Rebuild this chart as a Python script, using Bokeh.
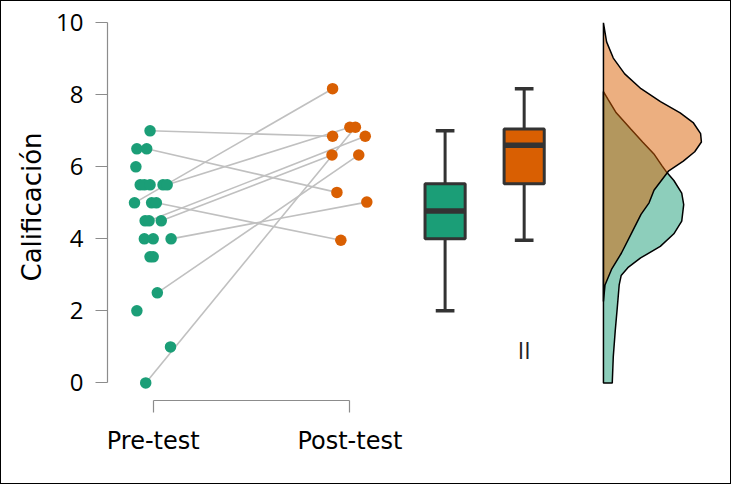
from bokeh.plotting import figure
from bokeh.models import Range1d, FixedTicker
from bokeh.embed import file_html
from bokeh.resources import INLINE
from bokeh.core.properties import value

# ---------------- data ----------------
group_labels = ["Pre-test", "Post-test"]
y_ticks = [0, 2, 4, 6, 8, 10]
y_label = "Calificación"

pre_scores = [7.0, 6.5, 6.5, 6.0, 5.5, 5.5, 5.5, 5.5, 5.5, 5.0, 5.0, 5.0,
              4.5, 4.5, 4.5, 4.0, 4.0, 4.0, 3.5, 3.5, 2.5, 2.0, 1.0, 0.0]
pre_jitter = [-0.016, -0.083, -0.033, -0.088, -0.066, -0.045, -0.016, 0.050, 0.071,
              -0.095, -0.008, 0.016, -0.041, -0.021, 0.041, -0.045, 0.000, 0.091,
              -0.016, 0.000, 0.021, -0.083, 0.088, -0.038]

post_scores = [8.17, 7.1, 7.1, 6.85, 6.85, 6.33, 6.33, 5.29, 5.02, 3.96]
post_jitter = [-0.088, 0.0, 0.028, -0.088, 0.078, -0.091, 0.045, -0.066, 0.086, -0.046]

# paired observations (index into pre, index into post)
pair_pre = [0, 2, 9, 8, 11, 14, 13, 17, 20, 23]
pair_post = [3, 7, 0, 1, 9, 5, 4, 8, 6, 2]

# box plot statistics: [pre, post]
box_low = [2.0, 3.96]
box_q1 = [4.0, 5.53]
box_median = [4.77, 6.6]
box_q3 = [5.53, 7.05]
box_high = [7.0, 8.17]

# half-violin density profiles (score, width)
pre_dens_score = [8.09, 7.86, 7.50, 7.05, 6.69, 6.34, 6.02, 5.84, 5.62, 5.27, 4.95,
                  4.49, 4.14, 3.79, 3.47, 3.20, 2.98, 2.72, 2.07, 1.45, 0.73, 0.03, 0.0]
pre_dens_width = [0.0, 0.025, 0.065, 0.139, 0.199, 0.259, 0.299, 0.323, 0.358, 0.398, 0.408,
                  0.398, 0.358, 0.289, 0.189, 0.124, 0.090, 0.080, 0.070, 0.060, 0.050, 0.045, 0.045]
post_dens_score = [10.0, 9.47, 9.02, 8.58, 8.17, 7.81, 7.50, 7.23, 6.92, 6.69, 6.42,
                   6.16, 5.89, 5.35, 5.00, 4.68, 4.14, 3.60, 3.15, 2.72, 2.26]
post_dens_width = [0.0, 0.016, 0.050, 0.108, 0.191, 0.290, 0.390, 0.456, 0.494, 0.498, 0.464,
                   0.406, 0.332, 0.257, 0.232, 0.191, 0.141, 0.091, 0.041, 0.008, 0.0]

sig_label = "II"

# ---------------- style / layout ----------------
GREEN = "#1b9e77"
ORANGE = "#d95f02"
FONT = "Open Sans"
FONT_WIDE = "DejaVu Sans"
pos_pre, pos_post = 1.0, 2.0
box_pos = [2.484, 2.886]
dens_base = 3.289
box_w = 0.204
cap_w = 0.095

p = figure(width=731, height=484, output_backend="svg", toolbar_location=None,
           x_range=Range1d(0.7677, 3.9095), y_range=Range1d(-0.489, 10.258),
           min_border_left=106, min_border_right=7, min_border_top=12, min_border_bottom=85)
p.styles = {"border": "1px solid black", "box-sizing": "border-box"}
p.outline_line_color = None
p.xgrid.visible = False
p.ygrid.visible = False
p.background_fill_color = "white"
p.border_fill_color = "white"

# connecting lines
x0 = [pos_pre + pre_jitter[i] for i in pair_pre]
y0 = [pre_scores[i] for i in pair_pre]
x1 = [pos_post + post_jitter[j] for j in pair_post]
y1 = [post_scores[j] for j in pair_post]
p.segment(x0=x0, y0=y0, x1=x1, y1=y1, line_color="#c0c0c0", line_width=1.6)

# points
p.scatter(x=[pos_pre + j for j in pre_jitter], y=pre_scores, size=11.5,
          fill_color=GREEN, line_color=None)
p.scatter(x=[pos_post + j for j in post_jitter], y=post_scores, size=11.5,
          fill_color=ORANGE, line_color=None)

# box plots
colors = [GREEN, ORANGE]
for k in range(2):
    xc = box_pos[k]
    p.segment(x0=[xc, xc], y0=[box_low[k], box_q3[k]], x1=[xc, xc], y1=[box_q1[k], box_high[k]],
              line_color="#333333", line_width=3)
    p.segment(x0=[xc - cap_w / 2, xc - cap_w / 2], y0=[box_low[k], box_high[k]],
              x1=[xc + cap_w / 2, xc + cap_w / 2], y1=[box_low[k], box_high[k]],
              line_color="#333333", line_width=3.5)
    p.quad(left=[xc - box_w / 2], right=[xc + box_w / 2], bottom=[box_q1[k]], top=[box_q3[k]],
           fill_color=colors[k], line_color="#333333", line_width=3)
    p.segment(x0=[xc - box_w / 2], y0=[box_median[k]], x1=[xc + box_w / 2], y1=[box_median[k]],
              line_color="#333333", line_width=5.5)

p.text(x=[box_pos[1]], y=[0.9], text=[sig_label], text_align="center", text_baseline="middle",
       text_font=value(FONT), text_font_size="23px", text_color="#222222")

# half violins
gx = [dens_base + w for w in pre_dens_width] + [dens_base]
gy = pre_dens_score + [pre_dens_score[-1]]
p.patch(x=gx, y=gy, fill_color=GREEN, fill_alpha=0.5, line_color="black", line_width=1.5)
ox = [dens_base + w for w in post_dens_width]
oy = post_dens_score
p.patch(x=ox, y=oy, fill_color=ORANGE, fill_alpha=0.5, line_color="black", line_width=1.5)

# axes
for ax in (p.xaxis[0], p.yaxis[0]):
    ax.axis_line_color = "#8c8c8c"
    ax.major_tick_line_color = "#8c8c8c"
    ax.axis_line_width = 1.2
    ax.major_tick_line_width = 1.2
    ax.minor_tick_line_color = None
    ax.major_tick_in = 0
    ax.major_tick_out = 12
    ax.major_label_text_color = "black"

p.yaxis.ticker = FixedTicker(ticks=y_ticks)
p.yaxis.bounds = (y_ticks[0], y_ticks[-1])
p.yaxis.major_label_text_font = FONT
p.yaxis.major_label_text_font_size = "24px"
p.yaxis.major_label_standoff = 12
p.yaxis.axis_label = y_label
p.yaxis.axis_label_text_font = FONT_WIDE
p.yaxis.axis_label_text_font_size = "26px"
p.yaxis.axis_label_text_font_style = "normal"
p.yaxis.axis_label_text_color = "black"
p.yaxis.axis_label_standoff = 6

p.xaxis.ticker = FixedTicker(ticks=[pos_pre, pos_post])
p.xaxis.bounds = (pos_pre, pos_post)
p.xaxis.major_label_overrides = {pos_pre: group_labels[0], pos_post: group_labels[1]}
p.xaxis.major_label_text_font = FONT_WIDE
p.xaxis.major_label_text_font_size = "24px"
p.xaxis.major_label_standoff = 14

open("out.html", "w").write(file_html(p, INLINE))
